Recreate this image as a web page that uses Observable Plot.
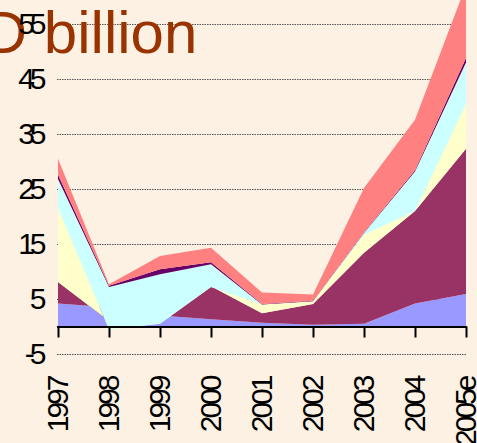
<!DOCTYPE html>
<html>
<head>
<meta charset="utf-8">
<script src="https://cdn.jsdelivr.net/npm/d3@7"></script>
<script src="https://cdn.jsdelivr.net/npm/@observablehq/plot@0.6"></script>
<style>
  html, body { margin: 0; padding: 0; background: #fcf1e3; overflow: hidden; }
  #chart svg { overflow: visible; }
  [aria-label="y-axis tick label"] text { letter-spacing: -5px; }
  [aria-label="x-axis tick label"] text { letter-spacing: -3px; }
</style>
</head>
<body>
<div id="chart"></div>
<script>
// Categories
const years = ["1997", "1998", "1999", "2000", "2001", "2002", "2003", "2004", "2005e"];
// Series values (USD billion), stacked bottom to top as in the original (negatives included)
const seriesBlue   = [4.2, 3.5, 2.0, 1.3, 0.7, 0.3, 0.5, 4.2, 5.9];
const seriesMaroon = [3.9, -2.5, 0.0, 6.0, 1.7, 3.8, 12.9, 16.8, 26.4];
const seriesYellow = [13.5, -1.5, -1.5, -0.1, 1.6, 0.5, 3.3, 0.0, 8.2];
const seriesCyan   = [5.2, 7.7, 9.0, 4.1, 0.0, 0.0, 0.3, 7.2, 7.5];
const seriesPurple = [0.8, 0.2, 0.9, 0.4, 0.1, 0.1, 0.1, 0.2, 0.8];
const seriesSalmon = [2.9, 0.3, 2.4, 2.6, 2.1, 1.1, 8.1, 9.2, 13.2];
const seriesColors = ["#9999ff", "#993366", "#ffffcc", "#ccffff", "#660066", "#ff8080"];
// Axis tick labels
const yTicks = [-5, 5, 15, 25, 35, 45, 55];
const title = "USD billion";

const allSeries = [seriesBlue, seriesMaroon, seriesYellow, seriesCyan, seriesPurple, seriesSalmon];
// Excel-style cumulative stacking
const cum = years.map(() => 0);
const layers = allSeries.map((vals, si) => years.map((yr, j) => {
  const y1 = cum[j];
  cum[j] = y1 + vals[j];
  return {year: yr, y1, y2: cum[j], s: si};
}));

const font = "'Liberation Sans', Arial, sans-serif";
const chart = Plot.plot({
  width: 477,
  height: 443,
  marginLeft: 57,
  marginRight: 10,
  marginTop: 24,
  marginBottom: 89,
  style: {background: "transparent", fontFamily: font, fontSize: "30px", color: "#000"},
  x: {type: "point", domain: years, padding: 0},
  y: {domain: [-5, 55]},
  marks: [
    Plot.ruleY(yTicks, {stroke: "#555", strokeWidth: 1, strokeDasharray: "1.5,1"}),
    ...layers.map((rows, si) => Plot.areaY(rows, {x: "year", y1: "y1", y2: "y2", fill: seriesColors[si], curve: "linear"})),
    Plot.ruleY([0], {stroke: "#000", strokeWidth: 2}),
    Plot.ruleX(years, {x: d => d, y1: 0, y2: -2, stroke: "#000", strokeWidth: 2}),
    Plot.text([title], {frameAnchor: "top-left", dx: -157, dy: 28, lineAnchor: "bottom", textAnchor: "start", fontSize: 60, fill: "#993300", fontFamily: font}),
    Plot.axisY({ticks: yTicks, tickSize: 0, tickPadding: 16, tickFormat: d => String(d), fontSize: 30, label: null}),
    Plot.axisX({tickSize: 0, tickPadding: 23, tickRotate: -90, fontSize: 30, label: null})
  ]
});
document.getElementById("chart").appendChild(chart);
</script>
</body>
</html>
